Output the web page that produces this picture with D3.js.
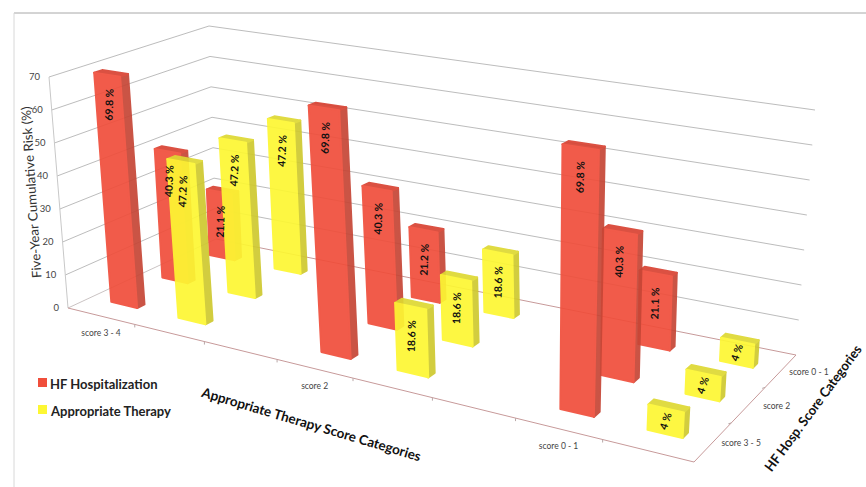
<!DOCTYPE html>
<html>
<head>
<meta charset="utf-8">
<script src="https://cdn.jsdelivr.net/npm/d3@7"></script>
<style>
  html, body { margin: 0; padding: 0; background: #fff; overflow: hidden; }
  text { font-family: Lato, "Open Sans", sans-serif; }
</style>
</head>
<body>
<div id="chart"></div>
<script>
// Values
const zTicks = [0, 10, 20, 30, 40, 50, 60, 70];
const xTickLabels = ["score 3 - 4", "", "", "score 2", "", "", "score 0 - 1", ""];
const rowLabels = ["score 3 - 5", "score 2", "score 0 - 1"];
const colSeries = ["HF Hospitalization", "Appropriate Therapy", null, "HF Hospitalization", "Appropriate Therapy", null, "HF Hospitalization", "Appropriate Therapy"];

// Bar heights as drawn (the "4 %" bars are drawn taller than their printed value)
const rowScore35 = [69.8, 47.2, null, 69.8, 18.6, null, 69.8, 6.5];
const rowScore2 = [40.3, 47.2, null, 40.3, 18.6, null, 40.3, 6.5];
const rowScore01 = [21.1, 47.2, null, 21.2, 18.6, null, 21.1, 6.5];
const rows = [rowScore35, rowScore2, rowScore01];

// Printed labels
const printed35 = ["69.8 %", "47.2 %", null, "69.8 %", "18.6 %", null, "69.8 %", "4 %"];
const printed2 = ["40.3 %", "47.2 %", null, "40.3 %", "18.6 %", null, "40.3 %", "4 %"];
const printed01 = ["21.1 %", "47.2 %", null, "21.2 %", "18.6 %", null, "21.1 %", "4 %"];
const printedRows = [printed35, printed2, printed01];

const legendNames = ["HF Hospitalization", "Appropriate Therapy"];

const colors = {
    "HF Hospitalization": { front: "#f04e3b", side: "#c64636", top: "#d84333" },
    "Appropriate Therapy": { front: "#fdf733", side: "#cfc92f", top: "#ded832" }
};

const width = 866, height = 487;

const svg = d3.select("#chart").append("svg")
    .attr("width", width)
    .attr("height", height);

// Scales in the 3D box: u runs along the therapy axis, v goes to the back, z is up
const uScale = d3.scaleBand().domain(d3.range(xTickLabels.length)).range([0, 1]);
const vScale = d3.scaleBand().domain(d3.range(rowLabels.length)).range([0, 1]);
const zScale = d3.scaleLinear().domain([0, 70]).range([0, 1]);

// Maps the unit square to a quad [p00, p10, p11, p01]
function quadMap(q) {
    const [p0, p1, p2, p3] = q;
    const dx1 = p1[0] - p2[0], dx2 = p3[0] - p2[0], sx = p0[0] - p1[0] + p2[0] - p3[0];
    const dy1 = p1[1] - p2[1], dy2 = p3[1] - p2[1], sy = p0[1] - p1[1] + p2[1] - p3[1];
    const den = dx1 * dy2 - dx2 * dy1;
    const g = (sx * dy2 - dx2 * sy) / den;
    const h = (dx1 * sy - sx * dy1) / den;
    return (u, v) => {
        const w = 1 + g * u + h * v;
        return [
            (p0[0] + (p1[0] - p0[0] + g * p1[0]) * u + (p3[0] - p0[0] + h * p3[0]) * v) / w,
            (p0[1] + (p1[1] - p0[1] + g * p1[1]) * u + (p3[1] - p0[1] + h * p3[1]) * v) / w
        ];
    };
}

// Floor and the plane at z = 70
const floorMap = quadMap([[68, 308], [694, 462], [796, 355], [216, 239]]);
const topMap = quadMap([[49, 77], [711, 180], [815, 110], [209, 26]]);

// Respaces u along an edge, keeps 0 and 1 in place
function warp(u, k) {
    return k * u / (1 + (k - 1) * u);
}

function project(u, v, value) {
    const t = zScale(value);
    const a = floorMap(warp(u, 1.08), v), b = topMap(warp(u, 0.915), v);
    return [a[0] + (b[0] - a[0]) * t, a[1] + (b[1] - a[1]) * t];
}

const line = d3.line();

// Chart frame
svg.append("line").attr("x1", 14).attr("y1", 13).attr("x2", 866).attr("y2", 13)
    .attr("stroke", "#a8a8a8").attr("stroke-width", 1);
svg.append("line").attr("x1", 14).attr("y1", 13).attr("x2", 14).attr("y2", 487)
    .attr("stroke", "#d8d8d8").attr("stroke-width", 1);

// Wall gridlines
const grid = svg.append("g");
grid.selectAll("path.grid")
    .data(zTicks.filter(d => d > 0))
    .enter().append("path")
    .attr("class", "grid")
    .attr("d", d => line([project(0, 0, d), project(0, 1, d), project(1, 1, d)]))
    .attr("fill", "none")
    .attr("stroke", "#b4b4b4")
    .attr("stroke-width", 0.9);

// Vertical axis
grid.append("path")
    .attr("d", line([project(0, 0, 0), project(0, 0, 70)]))
    .attr("stroke", "#c8c8c8");

// Floor edges
grid.append("path")
    .attr("d", line([project(0, 1, 0), project(0, 0, 0)]))
    .attr("fill", "none").attr("stroke", "#c4bcbc").attr("stroke-width", 0.9);
grid.append("path")
    .attr("d", line([project(0, 1, 0), project(1, 1, 0), project(1, 0, 0), project(0, 0, 0)]))
    .attr("fill", "none").attr("stroke", "#c79a9a").attr("stroke-width", 1);

// Tick marks along the floor edges
grid.selectAll("path.xtick")
    .data(d3.range(1, xTickLabels.length))
    .enter().append("path")
    .attr("class", "xtick")
    .attr("d", i => {
        const p = project(i / xTickLabels.length, 0, 0);
        return line([p, [p[0], p[1] + 3]]);
    })
    .attr("stroke", "#b9a8a8");
grid.selectAll("path.vtick")
    .data(d3.range(1, rowLabels.length))
    .enter().append("path")
    .attr("class", "vtick")
    .attr("d", i => {
        const p = project(1, i / rowLabels.length, 0);
        return line([p, [p[0] - 3, p[1] + 1]]);
    })
    .attr("stroke", "#b9a8a8");

// Tick labels
svg.selectAll("text.ztick")
    .data(zTicks)
    .enter().append("text")
    .attr("class", "ztick")
    .attr("x", d => project(0, 0, d)[0] - 9)
    .attr("y", d => project(0, 0, d)[1] + 3)
    .attr("text-anchor", "end")
    .attr("font-size", 9.5)
    .attr("fill", "#444")
    .text(d => d);

svg.selectAll("text.xlabel")
    .data(xTickLabels.map((t, i) => ({ t, i })).filter(d => d.t))
    .enter().append("text")
    .attr("class", "xlabel")
    .attr("x", d => project(uScale(d.i) + uScale.bandwidth() / 2, 0, 0)[0])
    .attr("y", d => project(uScale(d.i) + uScale.bandwidth() / 2, 0, 0)[1] + 20)
    .attr("text-anchor", "middle")
    .attr("font-size", 8.5)
    .attr("fill", "#444")
    .text(d => d.t);

svg.selectAll("text.vlabel")
    .data(rowLabels.map((t, i) => ({ t, i })))
    .enter().append("text")
    .attr("class", "vlabel")
    .attr("x", d => project(1, vScale(d.i) + vScale.bandwidth() / 2, 0)[0] + 28)
    .attr("y", d => project(1, vScale(d.i) + vScale.bandwidth() / 2, 0)[1] + 4)
    .attr("text-anchor", "middle")
    .attr("font-size", 8.5)
    .attr("fill", "#444")
    .text(d => d.t);

// Flat list of bars, back row first so the front rows paint over
const bars = [];
d3.range(rows.length).reverse().forEach(r => {
    rows[r].forEach((value, c) => {
        if (value !== null) bars.push({ r, c, value, series: colSeries[c], label: printedRows[r][c] });
    });
});

const barWidth = 0.39, barDepth = 0.14;

function boxCorners(d) {
    const uc = uScale(d.c) + uScale.bandwidth() / 2;
    const vc = vScale(d.r) + vScale.bandwidth() / 2;
    const du = uScale.bandwidth() * barWidth / 2;
    const dv = vScale.bandwidth() * barDepth / 2;
    return {
        fl0: project(uc - du, vc - dv, 0), fr0: project(uc + du, vc - dv, 0),
        br0: project(uc + du, vc + dv, 0),
        flt: project(uc - du, vc - dv, d.value), frt: project(uc + du, vc - dv, d.value),
        brt: project(uc + du, vc + dv, d.value), blt: project(uc - du, vc + dv, d.value)
    };
}

const barG = svg.selectAll("g.bar")
    .data(bars)
    .enter().append("g")
    .attr("class", "bar")
    .attr("opacity", 0.92);

function face(sel, pts, color) {
    sel.append("path")
        .attr("d", d => line(pts(boxCorners(d))) + "Z")
        .attr("fill", d => colors[d.series][color])
        .attr("stroke", d => colors[d.series][color])
        .attr("stroke-width", 2)
        .attr("stroke-linejoin", "round");
}

face(barG, b => [b.fr0, b.br0, b.brt, b.frt], "side");
face(barG, b => [b.flt, b.frt, b.brt, b.blt], "top");
face(barG, b => [b.fl0, b.fr0, b.frt, b.flt], "front");

// Value labels on the front faces, kept above all the bars
svg.selectAll("text.value")
    .data(bars)
    .enter().append("text")
    .attr("class", "value")
    .attr("transform", d => {
        const b = boxCorners(d);
        const topY = (b.flt[1] + b.frt[1]) / 2, topX = (b.flt[0] + b.frt[0]) / 2;
        const botY = (b.fl0[1] + b.fr0[1]) / 2, botX = (b.fl0[0] + b.fr0[0]) / 2;
        const drop = Math.min(30, (botY - topY) / 2);
        const y = topY + drop;
        const x = topX + (botX - topX) * drop / (botY - topY);
        return `translate(${x},${y}) rotate(${d.value < 10 ? -72 : -88})`;
    })
    .attr("text-anchor", "middle")
    .attr("dy", "0.35em")
    .attr("font-size", 10.5)
    .attr("font-weight", 700)
    .attr("fill", "#111")
    .text(d => d.label);

// Axis titles
svg.append("text")
    .attr("transform", "translate(36,192) rotate(-93.7)")
    .attr("text-anchor", "middle")
    .attr("font-size", 13)
    .attr("fill", "#333")
    .attr("textLength", 172)
    .attr("lengthAdjust", "spacingAndGlyphs")
    .text("Five-Year Cumulative Risk (%)");

svg.append("text")
    .attr("transform", "translate(310,429) rotate(16.5)")
    .attr("text-anchor", "middle")
    .attr("font-size", 13.5)
    .attr("font-weight", 700)
    .attr("fill", "#111")
    .attr("textLength", 228)
    .attr("lengthAdjust", "spacingAndGlyphs")
    .text("Appropriate Therapy Score Categories");

svg.append("text")
    .attr("transform", "translate(817,411) rotate(-53.6)")
    .attr("text-anchor", "middle")
    .attr("font-size", 13.5)
    .attr("font-weight", 700)
    .attr("fill", "#111")
    .attr("textLength", 153)
    .attr("lengthAdjust", "spacingAndGlyphs")
    .text("HF Hosp. Score Categories");

// Legend
const legend = svg.selectAll("g.legend")
    .data(legendNames)
    .enter().append("g")
    .attr("class", "legend")
    .attr("transform", (d, i) => `translate(38,${378 + i * 27})`);

legend.append("rect")
    .attr("width", 9)
    .attr("height", 9)
    .attr("fill", d => colors[d].front);

legend.append("text")
    .attr("x", (d, i) => 12 + i)
    .attr("y", 11)
    .attr("font-size", 13)
    .attr("font-weight", 700)
    .attr("fill", "#222")
    .text(d => d);
</script>
</body>
</html>
